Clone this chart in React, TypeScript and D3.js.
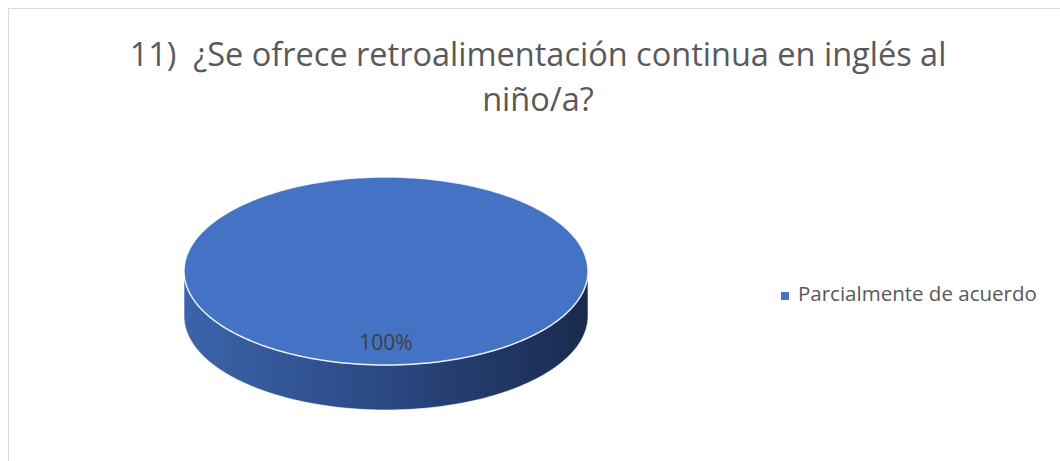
import { useEffect, useRef } from 'react';
import * as d3 from 'd3';

// chart data
const categories = ['Parcialmente de acuerdo'];
const values = [100];
const titleLines = ['11)  ¿Se ofrece retroalimentación continua en inglés al', 'niño/a?'];
const colors = ['#4472c4'];

const WIDTH = 1060;
const HEIGHT = 461;

export default function App() {
  const svgRef = useRef<SVGSVGElement>(null);

  useEffect(() => {
    if (!svgRef.current) return;
    const svg = d3.select(svgRef.current);
    svg.selectAll('*').remove();

    const font = "'Open Sans', 'Noto Sans', sans-serif";

    // chart area frame
    svg
      .append('rect')
      .attr('x', 8.5)
      .attr('y', 8.5)
      .attr('width', WIDTH + 10)
      .attr('height', HEIGHT + 10)
      .attr('fill', '#ffffff')
      .attr('stroke', '#d9d9d9')
      .attr('stroke-width', 1);

    // title
    svg
      .append('g')
      .selectAll('text')
      .data(titleLines)
      .join('text')
      .attr('x', 538)
      .attr('y', (_, i) => 66 + i * 45)
      .attr('text-anchor', 'middle')
      .attr('fill', '#595959')
      .attr('font-family', font)
      .attr('font-size', '32.5px')
      .style('white-space', 'pre')
      .text((d) => d);

    // pie geometry
    const cx = 386;
    const cy = 271;
    const rx = 202;
    const ry = 94;
    const depth = 45;

    const pie = d3.pie<number>().sort(null).value((d) => d);
    const arcs = pie(values);

    const pt = (a: number, dy = 0): [number, number] => [cx + rx * Math.sin(a), cy - ry * Math.cos(a) + dy];

    const defs = svg.append('defs');
    const grad = defs
      .append('linearGradient')
      .attr('id', 'side-grad')
      .attr('x1', '0%')
      .attr('x2', '100%')
      .attr('y1', '0%')
      .attr('y2', '0%');
    grad.append('stop').attr('offset', '0%').attr('stop-color', '#3c64ab');
    grad.append('stop').attr('offset', '45%').attr('stop-color', '#2c4b87');
    grad.append('stop').attr('offset', '100%').attr('stop-color', '#1a2a4e');

    const line = d3.line<[number, number]>();
    const sample = (a0: number, a1: number, dy = 0) => {
      const n = Math.max(2, Math.ceil(Math.abs(a1 - a0) * 60));
      return d3.range(n + 1).map((i) => pt(a0 + ((a1 - a0) * i) / n, dy));
    };

    // side walls (front half only)
    arcs.forEach((d) => {
      const s = Math.max(d.startAngle, Math.PI / 2);
      const e = Math.min(d.endAngle, (Math.PI * 3) / 2);
      if (e <= s) return;
      const top = sample(s, e);
      const bottom = sample(e, s, depth);
      svg
        .append('path')
        .attr('d', line([...top, ...bottom]) + 'Z')
        .attr('fill', 'url(#side-grad)')
        .attr('stroke', '#ffffff')
        .attr('stroke-opacity', 0.6)
        .attr('stroke-width', 1);
    });

    // top faces
    arcs.forEach((d, i) => {
      const full = d.endAngle - d.startAngle >= Math.PI * 2 - 1e-6;
      const pts = sample(d.startAngle, d.endAngle);
      const path = full ? line(pts) + 'Z' : line([[cx, cy], ...pts]) + 'Z';
      svg
        .append('path')
        .attr('d', path)
        .attr('fill', colors[i % colors.length])
        .attr('stroke', '#ffffff')
        .attr('stroke-opacity', 0.85)
        .attr('stroke-width', 1.5);
    });

    // data labels
    const total = d3.sum(values);
    arcs.forEach((d) => {
      const full = d.endAngle - d.startAngle >= Math.PI * 2 - 1e-6;
      const mid = full ? Math.PI : (d.startAngle + d.endAngle) / 2;
      const [lx, ly] = [cx + rx * 0.7 * Math.sin(mid), cy - ry * 0.78 * Math.cos(mid)];
      svg
        .append('text')
        .attr('x', lx)
        .attr('y', ly)
        .attr('text-anchor', 'middle')
        .attr('dominant-baseline', 'middle')
        .attr('fill', '#404040')
        .attr('font-family', font)
        .attr('font-size', '21px')
        .text(`${Math.round((d.value / total) * 100)}%`);
    });

    // legend
    const legend = svg
      .append('g')
      .selectAll('g')
      .data(categories)
      .join('g')
      .attr('transform', (_, i) => `translate(781, ${296 + i * 28})`);
    legend
      .append('rect')
      .attr('x', 0)
      .attr('y', -4)
      .attr('width', 8)
      .attr('height', 8)
      .attr('fill', (_, i) => colors[i % colors.length]);
    legend
      .append('text')
      .attr('x', 17)
      .attr('y', 0)
      .attr('dominant-baseline', 'middle')
      .attr('fill', '#595959')
      .attr('font-family', font)
      .attr('font-size', '20.5px')
      .text((d) => d);
  }, []);

  return (
    <svg
      ref={svgRef}
      width={WIDTH}
      height={HEIGHT}
      style={{ position: 'absolute', left: 0, top: 0, display: 'block' }}
    />
  );
}
